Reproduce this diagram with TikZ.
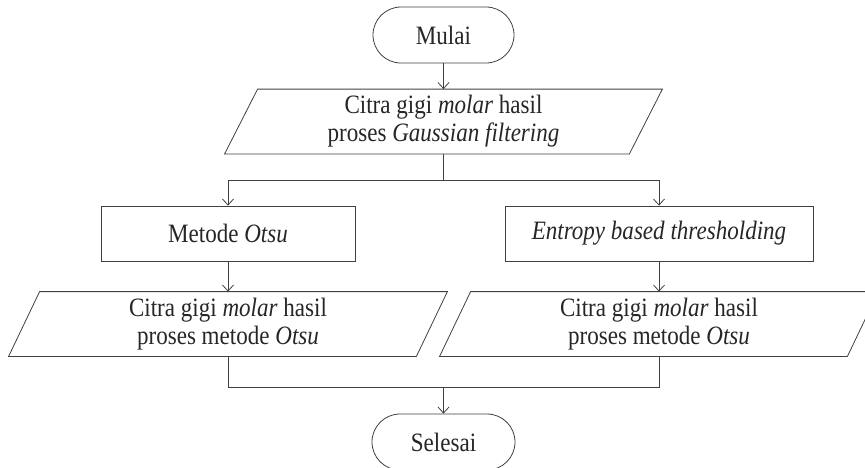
\documentclass[tikz,border=0pt]{standalone}
\usepackage{fontspec}
\setmainfont{Liberation Serif}[FakeStretch=0.87]
\usetikzlibrary{arrows.meta}
\begin{document}
\begin{tikzpicture}[x=1pt,y=-1pt,
  line width=0.8pt, draw=black!75,
  every node/.style={font=\fontsize{26.5}{28}\selectfont, text=black!85},
  term/.style={draw, rounded corners=28pt, minimum width=#1, minimum height=56pt, inner sep=0pt},
  proc/.style={draw, minimum width=#1, minimum height=55pt, inner sep=0pt},
  io/.style={minimum width=#1, minimum height=64pt, inner sep=0pt, align=center},
  arr/.style={-{Straight Barb[length=6pt,width=11pt,line width=0.8pt]}}
]
\useasboundingbox (0,0) rectangle (865,467);
\clip (0,0) rectangle (865,467);
\node[term=141pt] (mulai) at (443.5,35) {Mulai};
\node[io=404pt] (p1) at (443.5,121.5) {Citra gigi \emph{molar} hasil\\proses \emph{Gaussian filtering}};
\draw (p1.north west) ++(16.5,0) -- ([xshift=16.5pt]p1.north east) -- ([xshift=-16.5pt]p1.south east) -- ([xshift=-16.5pt]p1.south west) -- cycle;
\node[proc=254pt] (ml) at (228,233.5) {Metode \emph{Otsu}};
\node[proc=308pt] (mr) at (659,233.5) {\emph{Entropy based thresholding}};
\node[io=407pt] (p2l) at (228,324) {Citra gigi \emph{molar} hasil\\proses metode \emph{Otsu}};
\draw (p2l.north west) ++(15.5,0) -- ([xshift=15.5pt]p2l.north east) -- ([xshift=-15.5pt]p2l.south east) -- ([xshift=-15.5pt]p2l.south west) -- cycle;
\node[io=407pt] (p2r) at (659,324) {Citra gigi \emph{molar} hasil\\proses metode \emph{Otsu}};
\draw (p2r.north west) ++(15.5,0) -- ([xshift=15.5pt]p2r.north east) -- ([xshift=-15.5pt]p2r.south east) -- ([xshift=-15.5pt]p2r.south west) -- cycle;
\node[term=143pt] (selesai) at (443.5,442) {Selesai};
\coordinate (split) at (443.5,180);
\coordinate (merge) at (443.5,387);
\draw[arr] (mulai) -- (p1);
\draw (p1.south) -- (split);
\draw[arr] (split) -| (ml.north);
\draw[arr] (split) -| (mr.north);
\draw[arr] (ml) -- (p2l);
\draw[arr] (mr) -- (p2r);
\draw (p2l.south) |- (merge);
\draw (p2r.south) |- (merge);
\draw[arr] (merge) -- (selesai);
\end{tikzpicture}
\end{document}
